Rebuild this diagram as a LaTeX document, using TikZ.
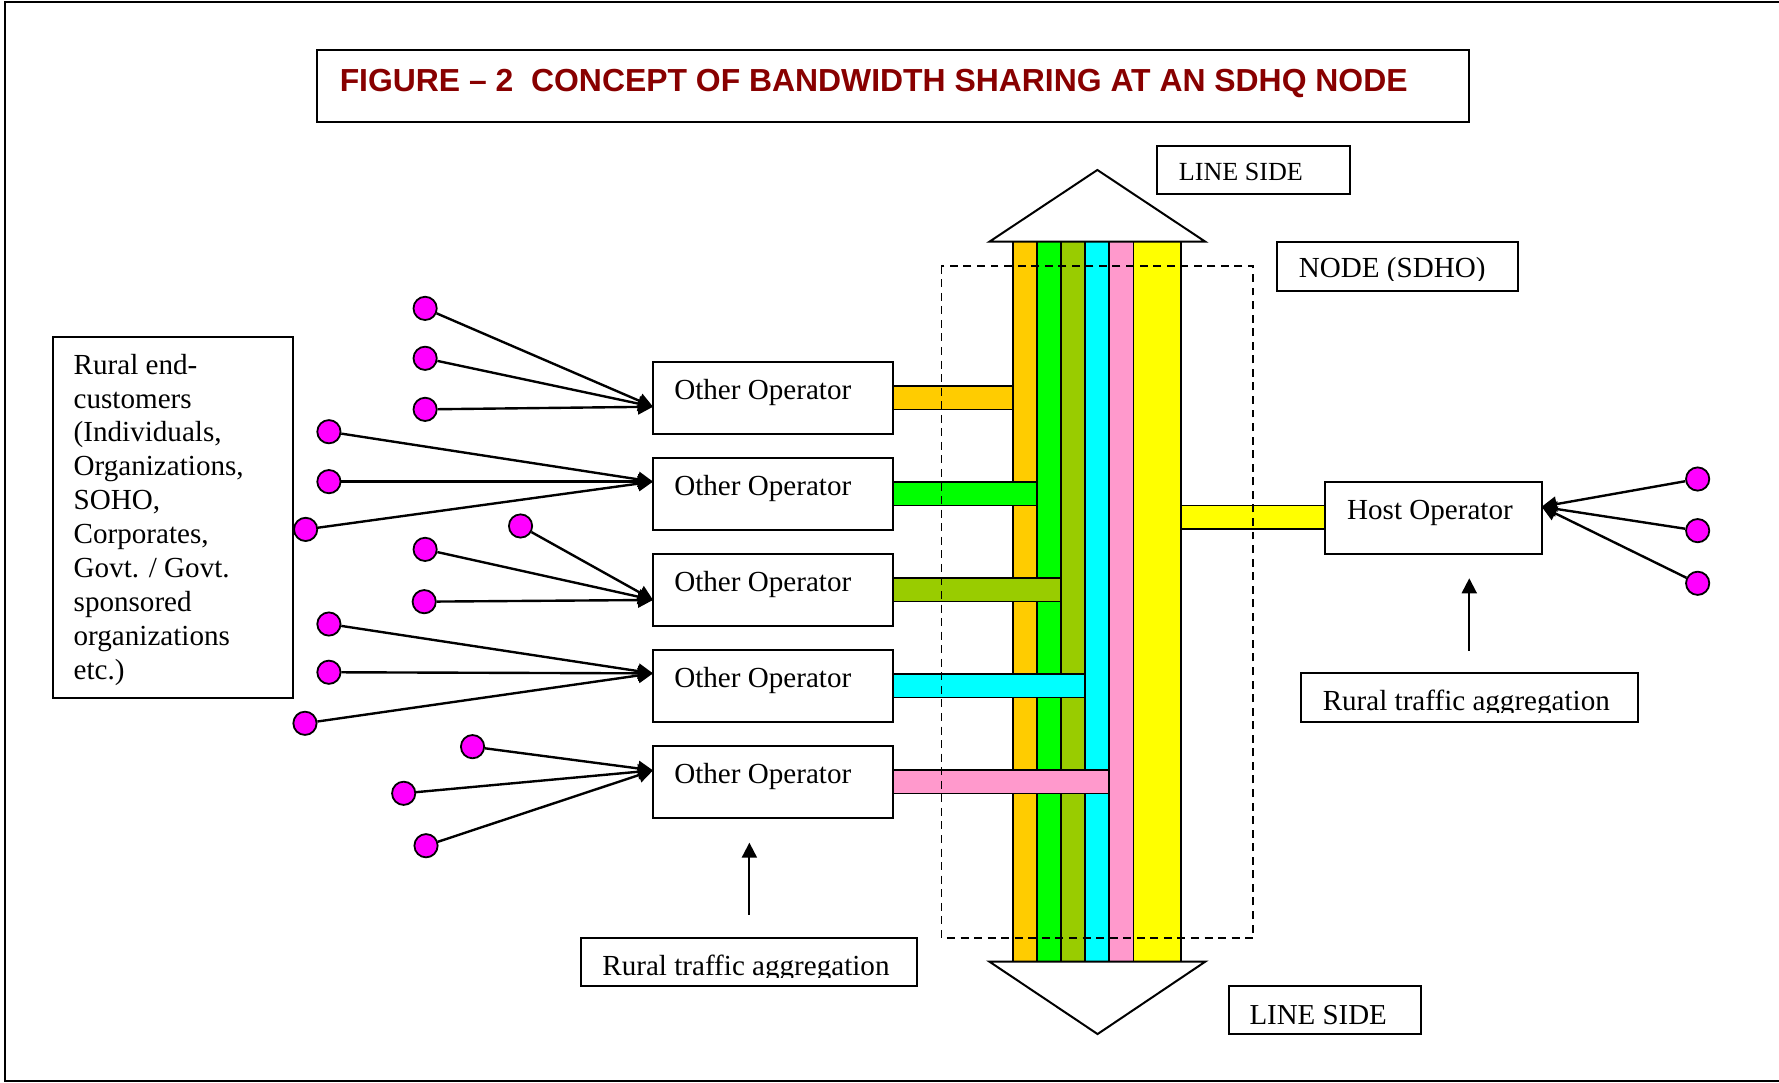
\documentclass[tikz,border=0pt]{standalone}
\usepackage{fontspec}
\setmainfont{Liberation Serif}
\newfontfamily\titlefont{Liberation Sans}
\usetikzlibrary{arrows.meta,fit}
\definecolor{cOrange}{HTML}{FFCC00}
\definecolor{cGreen}{HTML}{00FF00}
\definecolor{cOlive}{HTML}{99CC00}
\definecolor{cCyan}{HTML}{00FFFF}
\definecolor{cPink}{HTML}{FF99CC}
\definecolor{cYellow}{HTML}{FFFF00}
\definecolor{cDot}{HTML}{FF00FF}
\definecolor{titlered}{HTML}{880000}
\begin{document}
\begin{tikzpicture}[x=0.02cm,y=-0.02cm,
  box/.style={draw,line width=1pt,inner sep=0pt},
  txt/.style={inner sep=0pt,anchor=base west,font=\fontsize{14.6}{17}\selectfont},
  dot/.style={circle,draw,fill=cDot,line width=0.9pt,minimum size=0.41cm,inner sep=0pt},
  arr/.style={line width=1.2pt,-{Triangle[length=7.5pt,width=7.5pt]}},
  bar/.style={draw,line width=0.8pt},
  tri/.style={draw,fill=white,line width=1pt,line join=miter},
  dashbox/.style={draw,line width=0.9pt,dash pattern=on 4pt off 2.8pt}]
\useasboundingbox (0,0) rectangle (1568,954);
% outer frame
\draw[line width=1.1pt] (1568,1.5) -- (4.4,1.5) -- (4.4,952.8) -- (1568,952.8);
% title
\node[box,fit={(279.4,44.1) (1295,107.2)}] (titlebox) {};
\node[inner sep=0pt,anchor=base west,text=titlered,font=\titlefont\bfseries\fontsize{16}{19}\selectfont] (title) at (299.1,80.8) {FIGURE – 2\ \ CONCEPT OF BANDWIDTH SHARING AT AN SDHQ NODE};
% columns
\path[bar,fill=cOrange] (893,213) rectangle (914.2,847.6);
\path[bar,fill=cGreen] (914.2,213) rectangle (935.1,847.6);
\path[bar,fill=cOlive] (935.1,213) rectangle (956.4,847.6);
\path[bar,fill=cCyan] (956.4,213) rectangle (977.6,847.6);
\path[bar,fill=cPink] (977.6,213) rectangle (998.9,847.6);
\path[bar,fill=cYellow] (998.9,213) rectangle (1041.1,847.6);
% horizontal connectors
\path[bar,fill=cOrange] (787.5,340.2) rectangle (893,360.8);
\path[bar,fill=cGreen] (787.5,424.6) rectangle (914.2,445.7);
\path[bar,fill=cOlive] (787.5,509.6) rectangle (935.1,530.3);
\path[bar,fill=cCyan] (787.5,594.1) rectangle (956.4,614.9);
\path[bar,fill=cPink] (787.5,678.7) rectangle (977.6,699.5);
\path[bar,fill=cYellow] (1041.1,445.7) rectangle (1167.8,466.5);
% line side arrows
\path[tri] (872.1,213) -- (967.2,149.8) -- (1062.3,213) -- cycle;
\path[tri] (872.1,847.6) -- (967.4,911.4) -- (1062.3,847.6) -- cycle;
% labels top right
\node[box,fit={(1019.4,128.4) (1189.5,170.7)}] (lsTop) {};
\node[txt,font=\fontsize{13.1}{15.5}\selectfont] (lsTopT) at (1038.7,159.2) {LINE SIDE};
\node[box,fit={(1125.2,213) (1337.7,256.2)}] (nodeBox) {};
\begin{scope}
\clip (1126,214) rectangle (1337,246.8);
\node[txt] (nodeT) at (1144.4,244.7) {NODE (SDHO)};
\end{scope}
\node[box,fit={(1083.2,869) (1252.5,911.4)}] (lsBot) {};
\node[txt,font=\fontsize{14.5}{17}\selectfont] (lsBotT) at (1101,902.6) {LINE SIDE};
% left box
\node[box,fit={(46.4,297.3) (258.5,614.9)}] (leftBox) {};
\foreach \t [count=\i] in {{Rural end-},{customers},{(Individuals,},{Organizations,},{SOHO,},{Corporates,},{Govt. / Govt.},{sponsored},{organizations},{etc.)}}
  \node[txt] (L\i) at (64.6,{329.7+(\i-1)*29.9}) {\t};
% other operator boxes
\foreach \yt [count=\i] in {318.8,403.4,488.3,572.6,657.2}{
  \node[box,fit={(575.6,\yt) (787.5,\yt+63.7)}] (op\i) {};
  \node[txt] (opT\i) at (594,\yt+33.1) {Other Operator};
}
% host operator
\node[box,fit={(1167.8,424.5) (1358.8,488.3)}] (host) {};
\node[txt] (hostT) at (1187,458.3) {Host Operator};
% rural traffic aggregation boxes
\node[box,fit={(1146.4,593.5) (1443.4,636.4)}] (ruralR) {};
\begin{scope}
\clip (1147,594) rectangle (1443,628);
\node[txt] (ruralRT) at (1165.5,625.8) {Rural traffic aggregation};
\end{scope}
\node[box,fit={(512.1,826.5) (808.3,869)}] (ruralB) {};
\begin{scope}
\clip (513,827) rectangle (808,861.2);
\node[txt] (ruralBT) at (530.6,859.4) {Rural traffic aggregation};
\end{scope}
% arrow tips
\coordinate (t1) at (575.6,358.5);
\coordinate (t2) at (575.6,424.5);
\coordinate (t3) at (575.6,528.8);
\coordinate (t4) at (575.6,593.5);
\coordinate (t5) at (575.6,679);
\coordinate (th) at (1358.8,446.6);
% dots
\node[dot] (d1) at (374.7,271.8) {};
\node[dot] (d2) at (374.7,315.8) {};
\node[dot] (d3) at (374.7,360.8) {};
\node[dot] (d4) at (289.9,380.5) {};
\node[dot] (d5) at (289.9,424.5) {};
\node[dot] (d6) at (269.4,466.6) {};
\node[dot] (d7) at (458.8,463.6) {};
\node[dot] (d8) at (374.7,484.2) {};
\node[dot] (d9) at (373.9,530.3) {};
\node[dot] (d10) at (289.9,550) {};
\node[dot] (d11) at (289.9,592.5) {};
\node[dot] (d12) at (268.8,637.5) {};
\node[dot] (d13) at (416.5,658.1) {};
\node[dot] (d14) at (355.8,699.2) {};
\node[dot] (d15) at (375.5,745.4) {};
\node[dot] (h1) at (1496.3,422.2) {};
\node[dot] (h2) at (1496.3,467.7) {};
\node[dot] (h3) at (1496.3,514.1) {};
% connectors
\foreach \d in {1,2,3} \draw[arr] (d\d) -- (t1);
\foreach \d in {4,5,6} \draw[arr] (d\d) -- (t2);
\foreach \d in {7,8,9} \draw[arr] (d\d) -- (t3);
\foreach \d in {10,11,12} \draw[arr] (d\d) -- (t4);
\foreach \d in {13,14,15} \draw[arr] (d\d) -- (t5);
\foreach \d in {1,2,3} \draw[arr] (h\d) -- (th);
% aggregation pointers
\coordinate (aB0) at (660.5,806.2);
\coordinate (aB1) at (660.5,742.7);
\coordinate (aR0) at (1295,573.5);
\coordinate (aR1) at (1295,509.7);
\draw[arr,line width=1pt] (aB0) -- (aB1);
\draw[arr,line width=1pt] (aR0) -- (aR1);
% dashed node boundary
\path[dashbox] (829.8,234.2) rectangle (1104.7,826.7);
\end{tikzpicture}
\end{document}
